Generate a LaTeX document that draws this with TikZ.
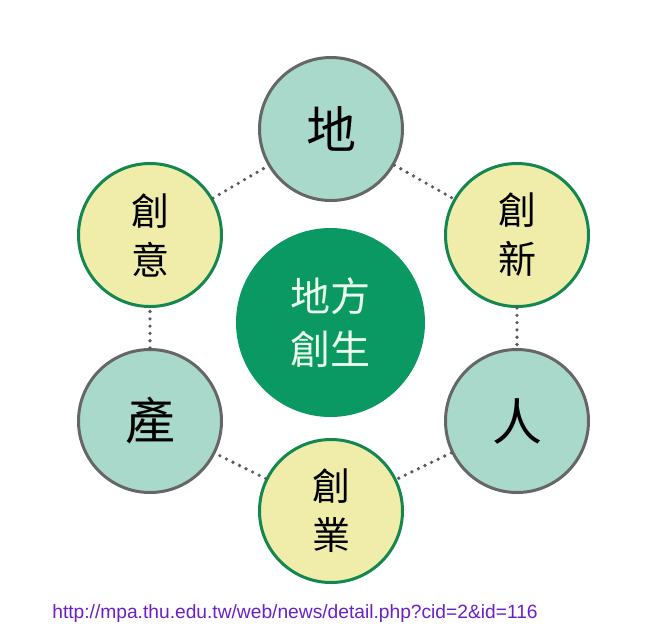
\documentclass[tikz,border=0pt]{standalone}
\usepackage{fontspec}
\newfontfamily\cjk{Noto Sans CJK TC}
\setmainfont{Liberation Sans}
\definecolor{tealfill}{HTML}{A9D9CA}
\definecolor{yellowfill}{HTML}{EFEDA9}
\definecolor{greenring}{HTML}{13874F}
\definecolor{grayring}{HTML}{666666}
\definecolor{centerfill}{HTML}{0B9963}
\definecolor{dotgray}{HTML}{5A5A5A}
\definecolor{urlcolor}{HTML}{6A1FC8}
\tikzset{
    tealnode/.style={draw=grayring, circle, fill=tealfill, line width=3pt, minimum size=143pt, inner sep=0pt, font=\cjk\fontsize{50}{50}\selectfont},
    yellownode/.style={draw=greenring, circle, fill=yellowfill, line width=3pt, minimum size=143pt, inner sep=0pt, align=center, font=\cjk\fontsize{38}{49}\selectfont},
    link/.style={dotgray, line width=3.6pt, line cap=round, dash pattern=on 0pt off 7.3pt}
}
\begin{document}
\begin{tikzpicture}[x=1pt, y=-1pt]
    \useasboundingbox (0,0) rectangle (653,641);
    % Centro
    \node[circle, fill=centerfill, minimum size=189pt, inner sep=0pt, align=center, text=white!92!green, font=\cjk\fontsize{40}{53}\selectfont] (core) at (330.5,322.5) {地方\\創生};

    % Anel de seis círculos
    \node[tealnode] (land) at (331,129) {地};
    \node[yellownode] (innovate) at (517,235) {創\\新};
    \node[tealnode] (people) at (517,421) {人};
    \node[yellownode] (startup) at (331,511) {創\\業};
    \node[tealnode] (industry) at (150,421) {產};
    \node[yellownode] (creative) at (150,235) {創\\意};

    % Ligações pontilhadas
    \draw[link] (land) -- (innovate);
    \draw[link] (innovate) -- (people);
    \draw[link] (people) -- (startup);
    \draw[link] (startup) -- (industry);
    \draw[link] (industry) -- (creative);
    \draw[link] (creative) -- (land);

    % Fonte
    \node[text=urlcolor, font=\fontsize{19.2}{19}\selectfont] (source) at (295,614) {http://mpa.thu.edu.tw/web/news/detail.php?cid=2\&id=116};
\end{tikzpicture}
\end{document}
